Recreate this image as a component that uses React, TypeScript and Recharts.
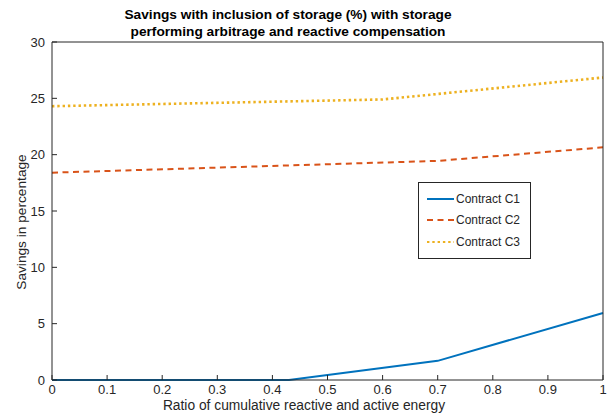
import React from 'react'
import { LineChart, Line, XAxis, YAxis, Legend } from 'recharts'

// ratio of cumulative reactive and active energy vs savings (%)
const contractC1 = [
  { x: 0, y: 0 },
  { x: 0.43, y: 0 },
  { x: 0.7, y: 1.7 },
  { x: 1, y: 5.95 },
]
const contractC2 = [
  { x: 0, y: 18.4 },
  { x: 0.7, y: 19.45 },
  { x: 1, y: 20.65 },
]
const contractC3 = [
  { x: 0, y: 24.3 },
  { x: 0.6, y: 24.9 },
  { x: 1, y: 26.85 },
]

const xTicks = [0, 0.1, 0.2, 0.3, 0.4, 0.5, 0.6, 0.7, 0.8, 0.9, 1]
const yTicks = [0, 5, 10, 15, 20, 25, 30]

const seriesInfo = [
  { name: 'Contract C1', color: '#0072BD', dash: undefined as string | undefined },
  { name: 'Contract C2', color: '#D95319', dash: '6 4.5' },
  { name: 'Contract C3', color: '#EDB120', dash: '2.4 2.9' },
]

const FONT = '"Liberation Sans", Arial, Helvetica, sans-serif'
const INK = '#262626'

function LegendBox() {
  return (
    <div
      style={{
        border: `1px solid ${INK}`,
        background: '#fff',
        padding: '5px 10px 5px 8px',
        fontFamily: FONT,
        fontSize: 12,
        color: INK,
      }}
    >
      {seriesInfo.map((s) => (
        <div key={s.name} style={{ display: 'flex', alignItems: 'center', height: 21.5 }}>
          <svg width={28} height={6} style={{ marginRight: 1 }}>
            <line x1={0} y1={3} x2={27} y2={3} stroke={s.color} strokeWidth={2} strokeDasharray={s.dash} />
          </svg>
          {s.name}
        </div>
      ))}
    </div>
  )
}

export default function App() {
  return (
    <div style={{ position: 'absolute', left: 0, top: 0, width: 609, height: 418, background: '#fff' }}>
      <div
        style={{
          position: 'absolute',
          left: 88,
          width: 400,
          top: 6,
          textAlign: 'center',
          fontFamily: FONT,
          fontWeight: 'bold',
          fontSize: 13.7,
          lineHeight: '17px',
          color: '#000',
        }}
      >
        Savings with inclusion of storage (%) with storage
        <br />
        performing arbitrage and reactive compensation
      </div>
      <LineChart width={609} height={418} margin={{ top: 41, right: 5, bottom: 18, left: 12 }}>
        <XAxis
          dataKey="x"
          type="number"
          domain={[0, 1]}
          ticks={xTicks}
          allowDuplicatedCategory={false}
          tickSize={-5}
          tickMargin={10}
          height={20}
          stroke={INK}
          tick={{ fill: INK, fontSize: 13, fontFamily: FONT }}
          tickFormatter={(v: number) => String(v)}
        />
        <XAxis
          xAxisId="top"
          orientation="top"
          type="number"
          domain={[0, 1]}
          ticks={xTicks}
          tickSize={-5}
          height={1}
          stroke={INK}
          tickFormatter={() => ''}
        />
        <YAxis
          type="number"
          domain={[0, 30]}
          ticks={yTicks}
          tickSize={-5}
          tickMargin={12}
          width={40}
          stroke={INK}
          tick={{ fill: INK, fontSize: 13, fontFamily: FONT }}
        />
        <YAxis
          yAxisId="right"
          orientation="right"
          type="number"
          domain={[0, 30]}
          ticks={yTicks}
          tickSize={-5}
          width={1}
          stroke={INK}
          tickFormatter={() => ''}
        />
        {seriesInfo.map((s, i) => (
          <Line
            key={s.name}
            data={[contractC1, contractC2, contractC3][i]}
            dataKey="y"
            name={s.name}
            type="linear"
            stroke={s.color}
            strokeWidth={i === 2 ? 2.6 : 2}
            strokeDasharray={s.dash}
            dot={false}
            activeDot={false}
            isAnimationActive={false}
          />
        ))}
        <Legend
          layout="vertical"
          align="center"
          verticalAlign="middle"
          content={() => <LegendBox />}
          wrapperStyle={{ position: 'absolute', left: 418, top: 182, width: 'auto' }}
        />
      </LineChart>
      <div
        style={{
          position: 'absolute',
          left: 104,
          width: 400,
          top: 398,
          textAlign: 'center',
          fontFamily: FONT,
          fontSize: 13.8,
          color: INK,
        }}
      >
        Ratio of cumulative reactive and active energy
      </div>
      <div
        style={{
          position: 'absolute',
          left: 21,
          top: 222,
          transform: 'translate(-50%, -50%) rotate(-90deg)',
          whiteSpace: 'nowrap',
          fontFamily: FONT,
          fontSize: 13.7,
          color: INK,
        }}
      >
        Savings in percentage
      </div>
    </div>
  )
}
